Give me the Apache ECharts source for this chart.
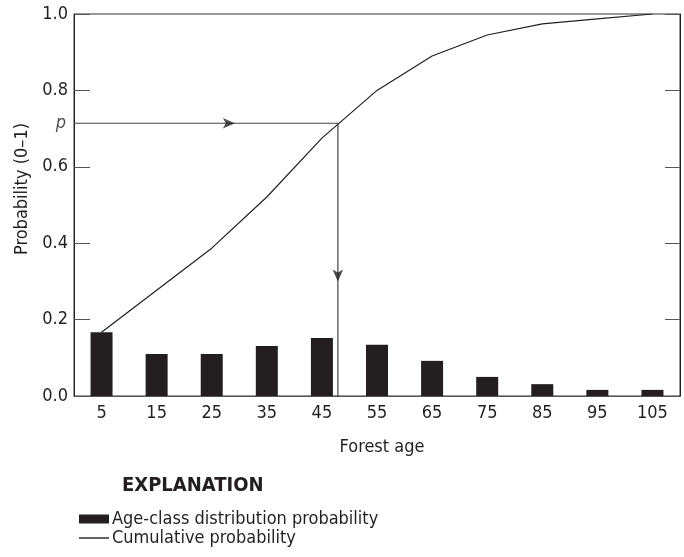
<!DOCTYPE html>
<html>
<head>
<meta charset="utf-8">
<script src="https://cdn.jsdelivr.net/npm/echarts@6/dist/echarts.min.js"></script>
<style>
html,body{margin:0;padding:0;background:#fff;}
#chart{width:684px;height:557px;}
</style>
</head>
<body>
<div id="chart"></div>
<script>
const ages = ['5','15','25','35','45','55','65','75','85','95','105'];
const ageClassProb = [0.167,0.110,0.110,0.131,0.152,0.134,0.092,0.050,0.031,0.016,0.016];
const cumulativeProb = [0.167,0.277,0.387,0.521,0.675,0.800,0.890,0.945,0.974,0.987,1.0];
const yTicks = [0,0.2,0.4,0.6,0.8,1.0];
const pValue = 0.714;   // read probability p
const pAge = 47.9;      // forest age where curve reaches p
const hArrowAge = 29.2; // arrowhead along horizontal line
const vArrowProb = 0.30; // arrowhead along vertical line

const FONT = '"Liberation Sans Narrow","DejaVu Sans Condensed","Roboto",sans-serif';
const INK = '#231f20';

const chart = echarts.init(document.getElementById('chart'));
chart.setOption({
  animation: false,
  backgroundColor: '#fff',
  textStyle: {fontFamily: FONT, color: INK},
  grid: {left: 74, right: 4, top: 14, bottom: 161, show: true, borderColor: '#333', borderWidth: 1},
  xAxis: [{
    type: 'category',
    data: ages,
    boundaryGap: true,
    axisLine: {lineStyle: {color: '#555', width: 1}},
    axisTick: {show: false},
    axisLabel: {color: INK, fontSize: 18, margin: 8, fontFamily: FONT},
    name: 'Forest age',
    nameLocation: 'middle',
    nameGap: 42,
    nameTextStyle: {color: INK, fontSize: 18, fontFamily: FONT, padding: [0,0,0,10]}
  },{
    type: 'value',
    min: 0, max: 110,
    show: false
  }],
  yAxis: [{
    type: 'value',
    min: 0, max: 1, interval: 0.2,
    axisLine: {show: true, lineStyle: {color: INK, width: 1}},
    axisTick: {show: true, inside: true, length: 16, lineStyle: {color: '#555'}},
    splitLine: {show: false},
    axisLabel: {color: INK, fontSize: 18, margin: 6, fontFamily: FONT,
      formatter: v => v.toFixed(1)}
  },{
    type: 'value',
    position: 'right',
    min: 0, max: 1, interval: 0.2,
    axisLine: {show: true, lineStyle: {color: INK, width: 1}},
    axisTick: {show: true, inside: true, length: 15, lineStyle: {color: '#555'}},
    splitLine: {show: false},
    axisLabel: {show: false}
  }],
  graphic: [{
    type: 'text',
    left: 13, top: 123,
    rotation: Math.PI/2,
    style: {text: 'Probability (0\u20131)', fontSize: 18, fontFamily: FONT, fill: INK}
  },{
    type: 'text',
    left: 122, top: 476,
    style: {text: 'EXPLANATION', fontSize: 20, fontWeight: 'bold', fontFamily: FONT, fill: INK}
  }],
  legend: {
    orient: 'vertical',
    left: 74, top: 505,
    itemWidth: 30, itemHeight: 9,
    itemGap: 1,
    symbolKeepAspect: true,
    textStyle: {fontSize: 18, color: INK, fontFamily: FONT, padding: [0,0,0,-2]},
    data: [
      {name: 'Age-class distribution probability', icon: 'rect'},
      {name: 'Cumulative probability', icon: 'path://M0,0H30V1.4H0Z'}
    ]
  },
  series: [{
    name: 'Age-class distribution probability',
    type: 'bar',
    data: ageClassProb,
    barWidth: 22,
    itemStyle: {color: INK}
  },{
    name: 'Cumulative probability',
    type: 'line',
    data: cumulativeProb,
    showSymbol: false,
    symbol: 'none',
    lineStyle: {color: INK, width: 1.2},
    itemStyle: {color: INK},
    z: 3
  },{
    name: 'pline',
    type: 'line',
    xAxisIndex: 1,
    data: [[0, pValue], [pAge, pValue], [pAge, 0]],
    showSymbol: false,
    symbol: 'none',
    lineStyle: {color: '#444', width: 1.2},
    silent: true,
    z: 2
  },{
    name: 'plabel',
    type: 'scatter',
    xAxisIndex: 1,
    data: [[0, pValue]],
    symbolSize: 0,
    label: {show: true, position: 'left', distance: 8, formatter: 'p',
      fontStyle: 'italic', fontSize: 18, color: INK, fontFamily: FONT},
    silent: true
  },{
    name: 'arrows',
    type: 'scatter',
    xAxisIndex: 1,
    data: [
      {value: [hArrowAge, pValue], symbolRotate: -90},
      {value: [pAge, vArrowProb], symbolRotate: 180}
    ],
    symbol: 'arrow',
    symbolSize: [8, 12],
    itemStyle: {color: INK},
    silent: true,
    z: 4
  }]
});
</script>
</body>
</html>
